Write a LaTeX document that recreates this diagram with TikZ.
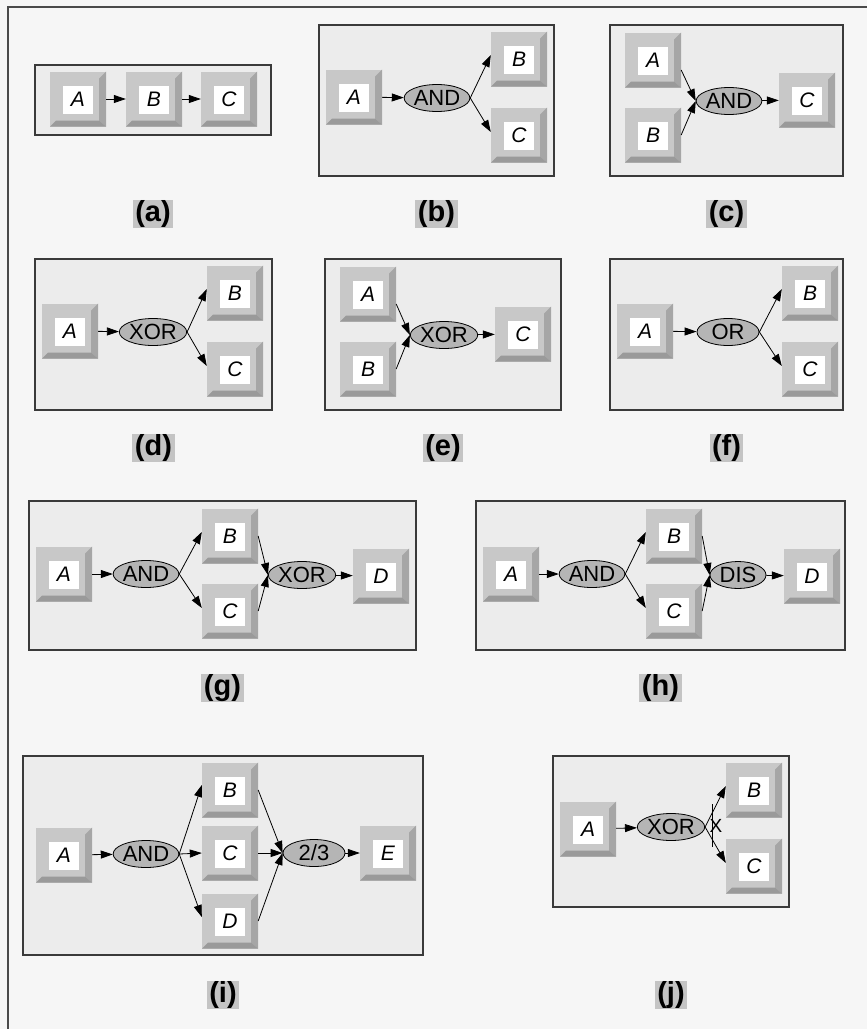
\documentclass[tikz,border=0pt]{standalone}
\usepackage{fontspec}
\setmainfont{Liberation Sans}
\usetikzlibrary{shapes.geometric,arrows.meta}
\definecolor{bgc}{HTML}{F6F6F6}
\definecolor{panelc}{HTML}{ECECEC}
\definecolor{panelline}{HTML}{3A3A3A}
\definecolor{outerline}{HTML}{4A4A4A}
\definecolor{facec}{HTML}{C8C8C8}
\definecolor{bevr}{HTML}{A6A6A6}
\definecolor{bevb}{HTML}{9A9A9A}
\definecolor{gatec}{HTML}{B5B5B5}
\definecolor{labc}{HTML}{C4C4C4}
\begin{document}
\begin{tikzpicture}[x=1pt,y=1pt,
  panel/.style={fill=panelc, draw=panelline, line width=1.3pt},
  keybox/.style={rectangle, minimum width=56pt, minimum height=55pt, inner sep=0pt, fill=facec,
    font=\itshape\fontsize{21}{21}\selectfont,
    path picture={
      \fill[bevr] (path picture bounding box.north east) -- (path picture bounding box.south east)
        -- ([shift={(-7pt,6pt)}]path picture bounding box.south east)
        -- ([shift={(-7pt,-7pt)}]path picture bounding box.north east) -- cycle;
      \fill[bevb] (path picture bounding box.south west) -- (path picture bounding box.south east)
        -- ([shift={(-7pt,6pt)}]path picture bounding box.south east)
        -- ([shift={(6pt,6pt)}]path picture bounding box.south west) -- cycle;
      \fill[white] ([shift={(-15pt,-15pt)}]path picture bounding box.center) rectangle ([shift={(15pt,13pt)}]path picture bounding box.center);
    }},
  gate/.style={ellipse, draw, line width=0.8pt, fill=gatec, minimum width=62pt, minimum height=27pt, inner sep=0pt,
    font=\fontsize{22}{22}\selectfont},
  arr/.style={-{Triangle[length=12pt,width=8pt]}, line width=0.8pt},
  lab/.style={fill=labc, font=\bfseries\fontsize{29}{29}\selectfont, inner xsep=2.5pt, inner ysep=0.5pt},
  xmk/.style={font=\fontsize{19}{19}\selectfont, inner sep=0pt}
]
\useasboundingbox (0,0) rectangle (867,-1029);
\fill[bgc] (0,0) rectangle (867,-1029);
\draw[outerline, line width=2pt] (867,-7) -- (8,-7) -- (8,-1029);

% ---- (a)
\path[panel] (35,-65) rectangle (271,-135);
\node[keybox] (aA) at (78,-99) {A};
\node[keybox] (aB) at (154,-99) {B};
\node[keybox] (aC) at (229,-99) {C};
\draw[arr] (aA) -- (aB);
\draw[arr] (aB) -- (aC);
\node[lab] (la) at (153,-214) {(a)};

% ---- (b)
\path[panel] (319,-25) rectangle (554,-176);
\node[keybox] (bA) at (354,-97) {A};
\node[gate] (bG) at (437,-98) {AND};
\node[keybox] (bB) at (519,-59) {B};
\node[keybox] (bC) at (519,-135) {C};
\draw[arr] (bA) -- (bG);
\draw[arr] (bG.east) -- ([yshift=4pt]bB.west);
\draw[arr] (bG.east) -- ([yshift=3pt]bC.west);
\node[lab] (lb) at (436.5,-214) {(b)};

% ---- (c)
\path[panel] (610,-25) rectangle (843,-176);
\node[keybox] (cA) at (653,-60) {A};
\node[keybox] (cB) at (653,-135) {B};
\node[gate] (cG) at (729,-101) {AND};
\node[keybox] (cC) at (807,-100) {C};
\draw[arr] ([yshift=-10pt]cA.east) -- (cG.west);
\draw[arr] (cB.east) -- (cG.west);
\draw[arr] (cG) -- (cC);
\node[lab] (lc) at (726.5,-214) {(c)};

% ---- (d)
\path[panel] (35,-259) rectangle (272,-410);
\node[keybox] (dA) at (70,-331) {A};
\node[gate] (dG) at (153,-332) {XOR};
\node[keybox] (dB) at (235,-293) {B};
\node[keybox] (dC) at (235,-369) {C};
\draw[arr] (dA) -- (dG);
\draw[arr] (dG.east) -- ([yshift=4pt]dB.west);
\draw[arr] (dG.east) -- ([yshift=3pt]dC.west);
\node[lab] (ld) at (153.5,-448) {(d)};

% ---- (e)
\path[panel] (325,-259) rectangle (561,-410);
\node[keybox] (eA) at (368,-294) {A};
\node[keybox] (eB) at (368,-369) {B};
\node[gate] (eG) at (444,-335) {XOR};
\node[keybox] (eC) at (523,-334) {C};
\draw[arr] ([yshift=-10pt]eA.east) -- (eG.west);
\draw[arr] (eB.east) -- (eG.west);
\draw[arr] (eG) -- (eC);
\node[lab] (le) at (443,-448) {(e)};

% ---- (f)
\path[panel] (610,-259) rectangle (843,-410);
\node[keybox] (fA) at (645,-331) {A};
\node[gate] (fG) at (728,-332) {OR};
\node[keybox] (fB) at (810,-293) {B};
\node[keybox] (fC) at (810,-369) {C};
\draw[arr] (fA) -- (fG);
\draw[arr] (fG.east) -- ([yshift=4pt]fB.west);
\draw[arr] (fG.east) -- ([yshift=3pt]fC.west);
\node[lab] (lf) at (726.5,-448) {(f)};

% ---- (g)
\path[panel] (29,-501) rectangle (416,-650);
\node[keybox] (gA) at (64,-574) {A};
\node[gate] (gG1) at (146,-574) {AND};
\node[keybox] (gB) at (230,-536) {B};
\node[keybox] (gC) at (230,-611) {C};
\node[gate] (gG2) at (302,-575) {XOR};
\node[keybox] (gD) at (381,-576) {D};
\draw[arr] (gA) -- (gG1);
\draw[arr] (gG1.east) -- ([yshift=4pt]gB.west);
\draw[arr] (gG1.east) -- ([yshift=3pt]gC.west);
\draw[arr] (gB.east) -- (gG2.west);
\draw[arr] (gC.east) -- (gG2.west);
\draw[arr] (gG2) -- (gD);
\node[lab] (lg) at (222.5,-688) {(g)};

% ---- (h)
\path[panel] (476,-501) rectangle (845,-650);
\node[keybox] (hA) at (511,-574) {A};
\node[gate] (hG1) at (592,-574) {AND};
\node[keybox] (hB) at (674,-536) {B};
\node[keybox] (hC) at (674,-611) {C};
\node[gate, minimum width=56pt] (hG2) at (738,-575) {DIS};
\node[keybox] (hD) at (812,-576) {D};
\draw[arr] (hA) -- (hG1);
\draw[arr] (hG1.east) -- ([yshift=4pt]hB.west);
\draw[arr] (hG1.east) -- ([yshift=3pt]hC.west);
\draw[arr] (hB.east) -- (hG2.west);
\draw[arr] (hC.east) -- (hG2.west);
\draw[arr] (hG2) -- (hD);
\node[lab] (lh) at (660.5,-688) {(h)};

% ---- (i)
\path[panel] (23,-756) rectangle (423,-955);
\node[keybox] (iA) at (64,-855) {A};
\node[gate] (iG1) at (146,-854) {AND};
\node[keybox] (iB) at (230,-790) {B};
\node[keybox] (iC) at (230,-853) {C};
\node[keybox] (iD) at (230,-921) {D};
\node[gate] (iG2) at (314,-853) {2/3};
\node[keybox] (iE) at (388,-853) {E};
\draw[arr] (iA) -- (iG1);
\draw[arr] (iG1.east) -- ([yshift=5pt]iB.west);
\draw[arr] (iG1.east) -- (iC.west);
\draw[arr] (iG1.east) -- ([yshift=4pt]iD.west);
\draw[arr] (iB.east) -- (iG2.west);
\draw[arr] (iC.east) -- (iG2.west);
\draw[arr] (iD.east) -- (iG2.west);
\draw[arr] (iG2) -- (iE);
\node[lab] (li) at (223,-995) {(i)};

% ---- (j)
\path[panel] (553,-756) rectangle (789,-907);
\node[keybox] (jA) at (588,-829) {A};
\node[gate] (jG) at (671,-827) {XOR};
\node[keybox] (jB) at (754,-790) {B};
\node[keybox] (jC) at (754,-866) {C};
\draw[arr] (jA) -- (jG);
\draw[arr] (jG.east) -- ([yshift=4pt]jB.west);
\draw[arr] (jG.east) -- ([yshift=3pt]jC.west);
\coordinate (jbarT) at (712,-804);
\coordinate (jbarB) at (712,-847);
\draw[line width=0.8pt] (jbarT) -- (jbarB);
\node[xmk] (jX) at (716,-826) {X};
\node[lab] (lj) at (671,-995) {(j)};
\end{tikzpicture}
\end{document}
